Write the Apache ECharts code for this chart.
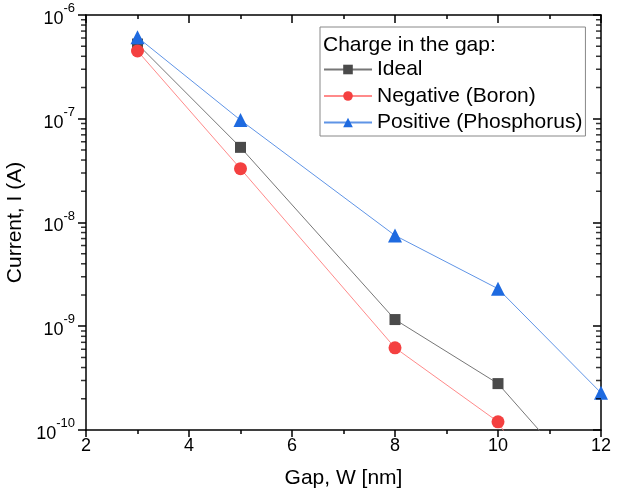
<!DOCTYPE html>
<html>
<head>
<meta charset="utf-8">
<script src="https://cdn.jsdelivr.net/npm/echarts@6/dist/echarts.min.js"></script>
<style>
  html, body { margin: 0; padding: 0; background: #fff; }
  #main { width: 624px; height: 495px; }
</style>
</head>
<body>
<div id="main"></div>
<script>
// gap values, nm
var gap = [3, 5, 8, 10, 12];
// current, A
var ideal = [5.25e-7, 5.3e-8, 1.16e-9, 2.8e-10, 2.1e-11];
var negative = [4.5e-7, 3.3e-8, 6.2e-10, 1.2e-10, 3e-12];
var positive = [6.1e-7, 9.7e-8, 7.5e-9, 2.3e-9, 2.28e-10];

var seriesNames = ['Ideal', 'Negative (Boron)', 'Positive (Phosphorus)'];
// minor ticks on the log axis: 2..9 of each decade
var decades = [1e-10, 1e-9, 1e-8, 1e-7];
var minorSteps = [2, 3, 4, 5, 6, 7, 8, 9];
var xEdges = [2, 12];

var FONT = 'Liberation Sans, Arial, sans-serif';

function pairs(xs, ys) {
    var out = [];
    for (var i = 0; i < xs.length; i++) out.push([xs[i], ys[i]]);
    return out;
}

// minor tick marks sit on the left and right frame lines
var minorTicks = [];
xEdges.forEach(function (x) {
    decades.forEach(function (d) {
        minorSteps.forEach(function (m) { minorTicks.push([x, m * d]); });
    });
});

var chart = echarts.init(document.getElementById('main'));

function lineStyle() {
    return { color: '#000', width: 1.5 };
}

chart.setOption({
    animation: false,
    textStyle: { fontFamily: FONT },
    grid: { left: 86, right: 23, top: 15, bottom: 65, outerBoundsMode: 'none' },
    title: {
        text: 'Charge in the gap:',
        left: 323, top: 35,
        padding: 0,
        textStyle: { fontFamily: FONT, fontSize: 21, fontWeight: 'normal', color: '#000' }
    },
    legend: {
        data: seriesNames,
        orient: 'vertical',
        left: 320, top: 27,
        padding: [32, 3, 3, 3],
        itemGap: 5.5,
        itemWidth: 48,
        itemHeight: 12,
        borderColor: '#888',
        borderWidth: 1,
        textStyle: { fontFamily: FONT, fontSize: 21, color: '#000' }
    },
    xAxis: [{
        type: 'value',
        min: 2, max: 12, interval: 2,
        name: 'Gap, W [nm]',
        nameLocation: 'middle',
        nameGap: 38,
        nameTextStyle: { fontSize: 21, color: '#000' },
        axisLine: { lineStyle: lineStyle() },
        axisTick: { length: 7, lineStyle: lineStyle() },
        minorTick: { show: true, splitNumber: 2, length: 4, lineStyle: lineStyle() },
        axisLabel: { fontSize: 18, color: '#000', margin: 7 },
        splitLine: { show: false },
        minorSplitLine: { show: false }
    }, {
        type: 'value',
        position: 'top',
        min: 2, max: 12, interval: 2,
        axisLine: { lineStyle: lineStyle() },
        axisTick: { show: true, inside: true, length: 8, lineStyle: lineStyle() },
        minorTick: { show: true, splitNumber: 2, length: 4, lineStyle: lineStyle() },
        axisLabel: { show: false },
        splitLine: { show: false }
    }],
    yAxis: [{
        type: 'log',
        logBase: 10,
        min: 1e-10, max: 1e-6,
        name: 'Current, I (A)',
        nameLocation: 'middle',
        nameGap: 47,
        nameTextStyle: { fontSize: 21, color: '#000' },
        axisLine: { lineStyle: lineStyle() },
        axisTick: { show: true, length: 8, lineStyle: lineStyle() },
        axisLabel: {
            margin: 11,
            color: '#000',
            formatter: function (v) {
                return '{b|10}{s|' + Math.round(Math.log10(v)) + '}';
            },
            rich: {
                b: { fontSize: 18, fontFamily: FONT, color: '#000', lineHeight: 26, verticalAlign: 'bottom' },
                s: { fontSize: 13, fontFamily: FONT, color: '#000', lineHeight: 26, verticalAlign: 'top' }
            }
        },
        splitLine: { show: false }
    }, {
        type: 'log',
        logBase: 10,
        position: 'right',
        min: 1e-10, max: 1e-6,
        axisLine: { lineStyle: lineStyle() },
        axisTick: { show: true, inside: true, length: 8, lineStyle: lineStyle() },
        axisLabel: { show: false },
        splitLine: { show: false }
    }],
    series: [{
        name: 'Ideal',
        type: 'line',
        data: pairs(gap, ideal),
        symbol: 'rect',
        symbolSize: 11,
        clip: true,
        z: 3,
        itemStyle: { color: '#4a4a4a' },
        lineStyle: { color: '#777', width: 1 }
    }, {
        name: 'Negative (Boron)',
        type: 'line',
        data: pairs(gap, negative),
        symbol: 'circle',
        symbolSize: 13,
        clip: true,
        z: 4,
        itemStyle: { color: '#f44040' },
        lineStyle: { color: '#ff8a8a', width: 1 }
    }, {
        name: 'Positive (Phosphorus)',
        type: 'line',
        data: pairs(gap, positive),
        symbol: 'triangle',
        symbolSize: 14,
        clip: true,
        z: 5,
        itemStyle: { color: '#1e6ae0' },
        lineStyle: { color: '#5f94e6', width: 1 }
    }, {
        // log minor ticks: outward on the left, inward on the right
        type: 'scatter',
        data: minorTicks,
        silent: true,
        clip: false,
        symbol: 'rect',
        symbolSize: [5, 1.5],
        symbolOffset: [-2.5, 0],
        itemStyle: { color: '#000' },
        z: 10
    }]
});
</script>
</body>
</html>
